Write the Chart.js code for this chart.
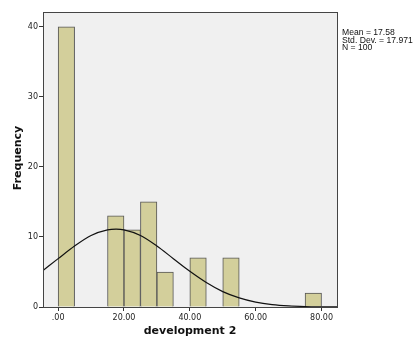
<!DOCTYPE html>
<html>
<head>
<meta charset="utf-8">
<script src="https://cdn.jsdelivr.net/npm/chart.js@4.4.1/dist/chart.umd.min.js"></script>
<style>
  html, body { margin: 0; padding: 0; background: #fff; }
  #wrap { width: 414px; height: 338px; }
</style>
</head>
<body>
<div id="wrap"><canvas id="histCanvas" width="414" height="338"></canvas></div>
<script>
// Histogram of "development 2" with a fitted normal curve

// bin starts (width 5) and counts per bin
const binStarts = [0, 5, 10, 15, 20, 25, 30, 35, 40, 45, 50, 55, 60, 65, 70, 75];
const binCounts = [40, 0, 0, 13, 11, 15, 5, 0, 7, 0, 7, 0, 0, 0, 0, 2];
const binWidth = 5;

// normal curve
const curveX = [-4.6, 0, 5, 10, 15, 17.6, 20, 25, 30, 35, 40, 45, 50, 55, 60, 65, 70, 75, 80, 84.7];
const curveY = [5.2, 6.9, 8.7, 10.2, 11.0, 11.1, 11.0, 10.2, 8.7, 6.9, 5.1, 3.5, 2.2, 1.3, 0.7, 0.35, 0.16, 0.07, 0.03, 0.01];

const xTicks = [0, 20, 40, 60, 80];
const yTicks = [0, 10, 20, 30, 40];
const statLines = ['Mean = 17.58', 'Std. Dev. = 17.971', 'N = 100'];

const tickFont = { family: 'DejaVu Sans', size: 8 };

// plot background, frame, axis titles and stats box
const decorPlugin = {
    id: 'decor',
    beforeDraw(chart) {
        const { ctx, chartArea: a } = chart;
        ctx.save();
        ctx.fillStyle = '#f0f0f0';
        ctx.fillRect(a.left, a.top, a.right - a.left, a.bottom - a.top);
        ctx.restore();
    },
    afterDraw(chart) {
        const { ctx, chartArea: a } = chart;
        ctx.save();
        ctx.strokeStyle = '#444';
        ctx.lineWidth = 1;
        ctx.strokeRect(a.left + 0.5, a.top + 0.5, a.right - a.left, a.bottom - a.top);

        ctx.fillStyle = '#111';
        ctx.font = 'bold 11px "DejaVu Sans"';
        ctx.textAlign = 'center';
        ctx.textBaseline = 'middle';
        ctx.fillText('development 2', 190, 331);

        ctx.translate(18, 158);
        ctx.rotate(-Math.PI / 2);
        ctx.fillText('Frequency', 0, 0);
        ctx.restore();

        ctx.save();
        ctx.fillStyle = '#111';
        ctx.font = '8.6px "Liberation Sans"';
        ctx.textAlign = 'left';
        ctx.textBaseline = 'middle';
        statLines.forEach((t, i) => ctx.fillText(t, 342, 33 + i * 7.5));
        ctx.restore();
    }
};

new Chart(document.getElementById('histCanvas'), {
    data: {
        datasets: [
            {
                type: 'line',
                data: curveX.map((x, i) => ({ x: x, y: curveY[i] })),
                borderColor: '#111',
                borderWidth: 1.2,
                pointRadius: 0,
                cubicInterpolationMode: 'monotone',
                fill: false,
                order: 0
            },
            {
                type: 'bar',
                data: binStarts.map((s, i) => ({ x: s + binWidth / 2, y: binCounts[i] })),
                backgroundColor: '#d3cf9b',
                borderColor: '#555',
                borderWidth: 1,
                barPercentage: 1,
                categoryPercentage: 1,
                order: 1
            }
        ]
    },
    options: {
        responsive: false,
        animation: false,
        layout: { padding: { top: 12, right: 77, left: 0, bottom: 0 } },
        plugins: {
            legend: { display: false },
            tooltip: { enabled: false }
        },
        scales: {
            x: {
                type: 'linear',
                min: -4.6,
                max: 84.7,
                offset: false,
                afterBuildTicks(scale) { scale.ticks = xTicks.map(v => ({ value: v })); },
                afterFit(scale) { scale.height = 31; },
                ticks: {
                    font: tickFont,
                    color: '#222',
                    padding: 2,
                    maxRotation: 0,
                    autoSkip: false,
                    callback: v => v === 0 ? '.00' : v.toFixed(2)
                },
                grid: { offset: false, drawOnChartArea: false, tickLength: 4, tickColor: '#333' },
                border: { display: false }
            },
            y: {
                min: 0,
                max: 42.1,
                afterBuildTicks(scale) { scale.ticks = yTicks.map(v => ({ value: v })); },
                afterFit(scale) { scale.width = 43; },
                ticks: { font: tickFont, color: '#222', padding: 1 },
                grid: { drawOnChartArea: false, tickLength: 4, tickColor: '#333' },
                border: { display: false }
            }
        }
    },
    plugins: [decorPlugin]
});
</script>
</body>
</html>
